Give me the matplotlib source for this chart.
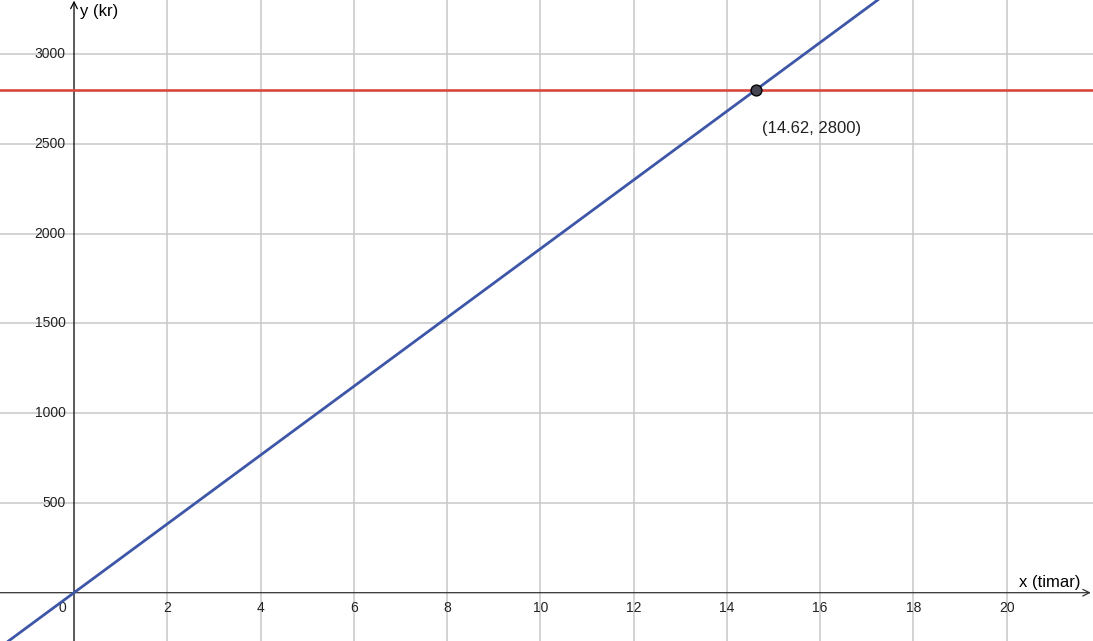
import matplotlib
matplotlib.use("Agg")
import matplotlib.pyplot as plt
import numpy as np

plt.rcParams['font.family'] = ['Liberation Sans', 'DejaVu Sans']

# data
x_ticks = [2, 4, 6, 8, 10, 12, 14, 16, 18, 20]
y_ticks = [500, 1000, 1500, 2000, 2500, 3000]
budget = 2800
line_p0 = (0, 0)
line_p1 = (14.62, 2800)
point_x = 14.62
point_y = 2800
point_label = "(14.62, 2800)"
x_label = "x (timar)"
y_label = "y (kr)"

fig = plt.figure(figsize=(10.93, 6.41), dpi=100)
ax = fig.add_axes([0, 0, 1, 1])
ax.set_xlim(-1.587, 21.85)
ax.set_ylim(-269, 3300.6)
for s in ax.spines.values():
    s.set_visible(False)

ax.set_xticks(x_ticks)
ax.set_yticks(y_ticks)
ax.tick_params(length=0, labelbottom=False, labelleft=False)
ax.grid(True, color='#c8c8c8', linewidth=1.1)
ax.set_axisbelow(True)

# axes with arrows
ax.annotate('', xy=(0, 0.999), xytext=(0, 0), xycoords=('data', 'axes fraction'),
            textcoords=('data', 'axes fraction'),
            arrowprops=dict(arrowstyle='->', color='black', lw=0.9, shrinkA=0, shrinkB=0,
                            mutation_scale=12))
ax.annotate('', xy=(0.998, 0), xytext=(0, 0), xycoords=('axes fraction', 'data'),
            textcoords=('axes fraction', 'data'),
            arrowprops=dict(arrowstyle='->', color='#333333', lw=0.9, shrinkA=0, shrinkB=0,
                            mutation_scale=12))

# tick labels
for xv in x_ticks:
    ax.annotate(str(xv), xy=(xv, 0), xytext=(0, -6), textcoords='offset points',
                ha='center', va='top', fontsize=10, color='#222222')
ax.annotate('0', xy=(0, 0), xytext=(-8.5, -6), textcoords='offset points',
            ha='center', va='top', fontsize=10, color='#222222')
for yv in y_ticks:
    ax.annotate(str(yv), xy=(0, yv), xytext=(-6, 0), textcoords='offset points',
                ha='right', va='center', fontsize=10, color='#222222')

# axis labels
ax.annotate(y_label, xy=(0, 1), xycoords=('data', 'axes fraction'), xytext=(4, -3),
            textcoords='offset points', ha='left', va='top', fontsize=12)
ax.annotate(x_label, xy=(1, 0), xycoords=('axes fraction', 'data'), xytext=(-9, 2),
            textcoords='offset points', ha='right', va='bottom', fontsize=12)

# lines
ax.axhline(budget, color='#d9483f', linewidth=1.9, zorder=3)
ax.axline(line_p0, line_p1, color='#3e56a8', linewidth=2.0, zorder=4)
ax.plot([point_x], [point_y], 'o', markersize=7.8, markerfacecolor='#454552',
        markeredgecolor='black', markeredgewidth=1.0, zorder=5)
ax.annotate(point_label, xy=(point_x, point_y), xytext=(4.5, -27.5),
            textcoords='offset points', ha='left', va='center', fontsize=12, color='#222222')

fig.savefig('out.png', dpi=100)
